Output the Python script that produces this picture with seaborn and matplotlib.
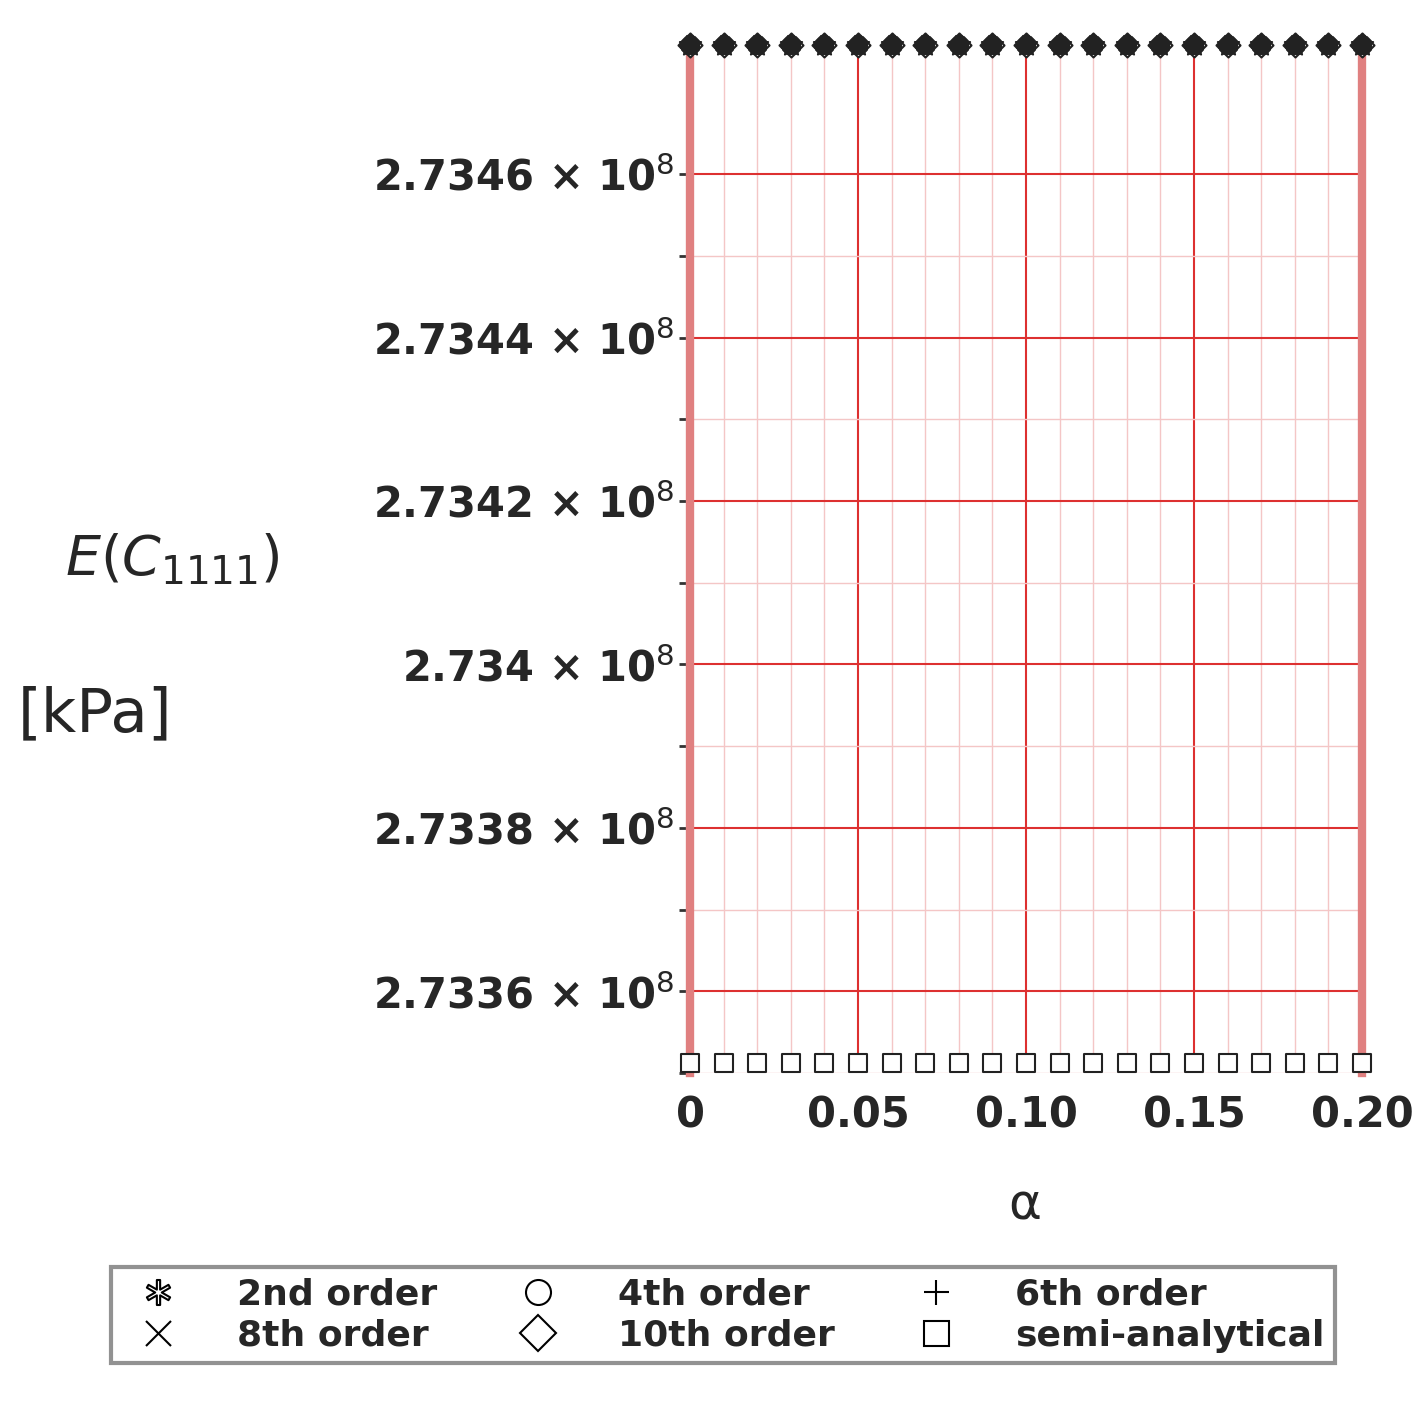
import matplotlib
matplotlib.use("Agg")
import matplotlib.pyplot as plt
import seaborn as sns
import pandas as pd
import numpy as np
from matplotlib.lines import Line2D

alpha = [0.00,0.01,0.02,0.03,0.04,0.05,0.06,0.07,0.08,0.09,0.10,0.11,0.12,0.13,0.14,0.15,0.16,0.17,0.18,0.19,0.20]
top_val = [2.734758e8]*21
ord2 = top_val; ord4 = top_val; ord6 = top_val; ord8 = top_val; ord10 = top_val
semi = [2.733512e8]*21
series = ["2nd order","4th order","6th order","8th order","10th order","semi-analytical"]
values = [ord2, ord4, ord6, ord8, ord10, semi]
markers = ["*","o","P","X","D","s"]
yticks = [2.7336e8,2.7338e8,2.734e8,2.7342e8,2.7344e8,2.7346e8]
ytick_labels = ["2.7336","2.7338","2.734","2.7342","2.7344","2.7346"]

sns.set_style("white")
fig = plt.figure(figsize=(14.23,14.02), dpi=100)
ax = fig.add_axes([690/1423, 1-1073/1402, 672/1423, 1028/1402])
ax.set_xlim(0,0.2); ax.set_ylim(2.733512e8, 2.734758e8)
ax.set_xticks(np.arange(0,0.2001,0.01), minor=True)
ax.set_yticks(np.arange(2.7336e8-1e4,2.7347e8,1e4), minor=True)
ax.grid(which="minor", color="#f4c6c6", lw=1)
ax.set_xticks([0,0.05,0.1,0.15,0.2]); ax.set_yticks(yticks)
ax.grid(which="major", color="#dd3030", lw=1.5)
ax.set_axisbelow(True)
for s in ["top","bottom"]: ax.spines[s].set_visible(False)
for s in ["left","right"]:
    ax.spines[s].set_color("#e08080"); ax.spines[s].set_linewidth(6)
ax.set_xticklabels(["0","0.05","0.10","0.15","0.20"], fontsize=30, fontweight="bold")
ax.set_yticklabels([f"{l} × 10$^8$" for l in ytick_labels], fontsize=30, fontweight="bold")
ax.tick_params(axis="y", which="both", left=True, length=8, width=2, color="#333333")
ax.tick_params(axis="x", which="major", pad=12)
draw_order = [4,1,2,3,0,5]
for i in draw_order:
    name, vals, m = series[i], values[i], markers[i]
    df = pd.DataFrame({"a": alpha, "v": vals})
    hollow = m in ("o","D","s")
    sns.scatterplot(data=df, x="a", y="v", ax=ax, marker=m, s=260 if m=="*" else 150,
                    color="white" if hollow else "#222222", edgecolor="#222222",
                    linewidth=1.5, clip_on=False, legend=False, zorder=5)
ax.set_xlabel(""); ax.set_ylabel("")
fig.text(1025/1423, 1-1205/1402, "α", fontsize=36, ha="center", va="center")
fig.text(65/1423, 1-560/1402, "$E\\left(C_{1111}\\right)$", fontsize=40, ha="left", va="center")
fig.text(18/1423, 1-715/1402, "[kPa]", fontsize=44, ha="left", va="center")
hm = {"*":"$\\ast$","o":"o","P":"+","X":"x","D":"D","s":"s"}
handles = [Line2D([],[],ls="none",marker=hm[m], markersize=18, markerfacecolor="none",
                  markeredgecolor="black", markeredgewidth=1.5) for m in markers]
order = [0,3,1,4,2,5]
leg = fig.legend([handles[i] for i in order],[series[i] for i in order], ncol=3,
                 loc="center", bbox_to_anchor=(723/1423, 1-1315/1402), fontsize=26,
                 frameon=True, fancybox=False, edgecolor="#777777", handletextpad=1.2,
                 columnspacing=1.8, borderpad=0.3, labelspacing=0.2)
leg.get_frame().set_linewidth(3)
for t in leg.get_texts(): t.set_fontweight("bold")
fig.savefig("out.png", dpi=100)
